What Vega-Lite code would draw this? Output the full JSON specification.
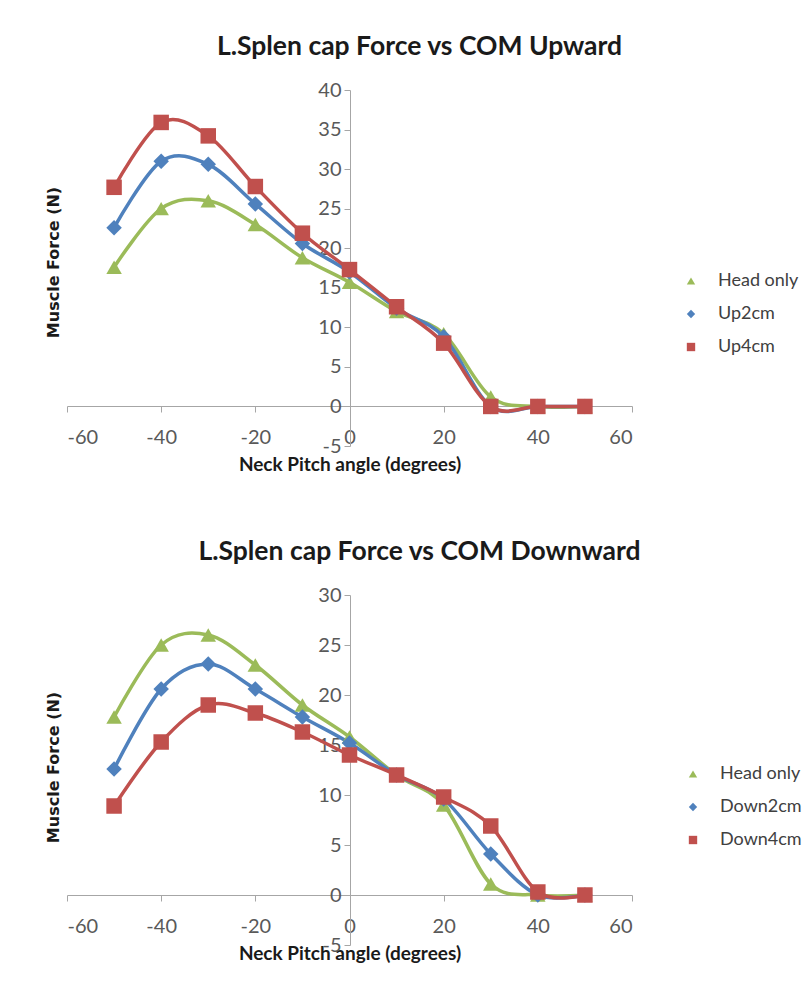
{
  "$schema": "https://vega.github.io/schema/vega-lite/v6.json",
  "background": "white",
  "padding": {"left": 45, "top": 33, "right": 0, "bottom": 0},
  "spacing": 64,
  "config": {
    "view": {"stroke": null},
    "font": "Lato",
    "axis": {
      "grid": false,
      "domainColor": "#a6a6a6",
      "tickColor": "#a6a6a6",
      "domainWidth": 1,
      "tickSize": 6,
      "labelColor": "#595959",
      "labelFont": "Lato",
      "labelFontSize": 20,
      "titleColor": "#1a1a1a"
    },
    "legend": {
      "labelFont": "Lato",
      "labelFontSize": 18,
      "labelColor": "#404040"
    },
    "title": {"font": "Lato", "fontSize": 26.5, "fontWeight": "bold", "color": "#1a1a1a"}
  },
  "resolve": {"scale": {"color": "independent", "shape": "independent", "stroke": "independent"}},
  "vconcat": [
    {
      "width": 565,
      "height": 356,
      "title": {"text": "L.Splen cap Force vs COM Upward", "offset": 20, "dx": 70},
      "data": {"values": [
        {"angle": -50, "force": 17.6, "series": "Head only"},
        {"angle": -40, "force": 25.0, "series": "Head only"},
        {"angle": -30, "force": 26.0, "series": "Head only"},
        {"angle": -20, "force": 23.0, "series": "Head only"},
        {"angle": -10, "force": 18.8, "series": "Head only"},
        {"angle": 0, "force": 15.7, "series": "Head only"},
        {"angle": 10, "force": 12.0, "series": "Head only"},
        {"angle": 20, "force": 9.2, "series": "Head only"},
        {"angle": 30, "force": 1.2, "series": "Head only"},
        {"angle": 40, "force": 0, "series": "Head only"},
        {"angle": 50, "force": 0, "series": "Head only"},
        {"angle": -50, "force": 22.6, "series": "Up2cm"},
        {"angle": -40, "force": 31.0, "series": "Up2cm"},
        {"angle": -30, "force": 30.6, "series": "Up2cm"},
        {"angle": -20, "force": 25.6, "series": "Up2cm"},
        {"angle": -10, "force": 20.6, "series": "Up2cm"},
        {"angle": 0, "force": 17.0, "series": "Up2cm"},
        {"angle": 10, "force": 12.4, "series": "Up2cm"},
        {"angle": 20, "force": 8.8, "series": "Up2cm"},
        {"angle": 30, "force": 0, "series": "Up2cm"},
        {"angle": 40, "force": 0, "series": "Up2cm"},
        {"angle": 50, "force": 0, "series": "Up2cm"},
        {"angle": -50, "force": 27.7, "series": "Up4cm"},
        {"angle": -40, "force": 35.9, "series": "Up4cm"},
        {"angle": -30, "force": 34.2, "series": "Up4cm"},
        {"angle": -20, "force": 27.8, "series": "Up4cm"},
        {"angle": -10, "force": 21.9, "series": "Up4cm"},
        {"angle": 0, "force": 17.3, "series": "Up4cm"},
        {"angle": 10, "force": 12.6, "series": "Up4cm"},
        {"angle": 20, "force": 8.0, "series": "Up4cm"},
        {"angle": 30, "force": 0, "series": "Up4cm"},
        {"angle": 40, "force": 0, "series": "Up4cm"},
        {"angle": 50, "force": 0, "series": "Up4cm"}
      ]},
      "encoding": {
        "x": {
          "field": "angle", "type": "quantitative",
          "scale": {"domain": [-60, 60], "nice": false, "zero": false},
          "axis": {
            "values": [-60, -40, -20, 0, 20, 40, 60],
            "labelExpr": "'' + datum.value",
            "offset": -40, "labelPadding": 25, "labelBaseline": "middle",
            "title": "Neck Pitch angle (degrees)",
            "titleFont": "Lato", "titleFontSize": 19, "titleFontWeight": "bold", "titlePadding": 8
          }
        },
        "y": {
          "field": "force", "type": "quantitative",
          "scale": {"domain": [-5, 40], "nice": false, "zero": false},
          "axis": {
            "values": [-5, 0, 5, 10, 15, 20, 25, 30, 35, 40],
            "labelExpr": "'' + datum.value",
            "offset": -283, "labelPadding": 3,
            "title": "Muscle Force (N)",
            "titleFont": "DejaVu Sans", "titleFontSize": 16, "titleFontWeight": "bold",
            "titleX": -297, "titleY": 172, "titleBaseline": "middle"
          }
        }
      },
      "layer": [
        {
          "mark": {"type": "line", "interpolate": "cardinal", "strokeWidth": 3.5},
          "encoding": {
            "stroke": {"field": "series", "type": "nominal",
              "scale": {"domain": ["Up4cm", "Up2cm", "Head only"], "range": ["#C0504D", "#4F81BD", "#9BBB59"]},
              "legend": null}
          }
        },
        {
          "mark": {"type": "point", "filled": true, "opacity": 1, "size": 240},
          "encoding": {
            "color": {"field": "series", "type": "nominal",
              "scale": {"domain": ["Head only", "Up2cm", "Up4cm"], "range": ["#9BBB59", "#4F81BD", "#C0504D"]},
              "legend": {
                "title": null, "orient": "none", "legendX": 615, "legendY": 182,
                "symbolSize": 70, "labelOffset": 18, "rowPadding": 15
              }
            },
            "shape": {"field": "series", "type": "nominal",
              "scale": {"domain": ["Head only", "Up2cm", "Up4cm"], "range": ["triangle-up", "diamond", "square"]},
              "legend": {
                "title": null, "orient": "none", "legendX": 615, "legendY": 182,
                "symbolSize": 70, "labelOffset": 18, "rowPadding": 15
              }
            }
          }
        }
      ]
    },
    {
      "width": 565,
      "height": 350,
      "title": {"text": "L.Splen cap Force vs COM Downward", "offset": 20, "dx": 70},
      "data": {"values": [
        {"angle": -50, "force": 17.8, "series": "Head only"},
        {"angle": -40, "force": 25.0, "series": "Head only"},
        {"angle": -30, "force": 26.0, "series": "Head only"},
        {"angle": -20, "force": 23.0, "series": "Head only"},
        {"angle": -10, "force": 19.0, "series": "Head only"},
        {"angle": 0, "force": 15.8, "series": "Head only"},
        {"angle": 10, "force": 12.0, "series": "Head only"},
        {"angle": 20, "force": 9.0, "series": "Head only"},
        {"angle": 30, "force": 1.1, "series": "Head only"},
        {"angle": 40, "force": 0, "series": "Head only"},
        {"angle": 50, "force": 0, "series": "Head only"},
        {"angle": -50, "force": 12.6, "series": "Down2cm"},
        {"angle": -40, "force": 20.6, "series": "Down2cm"},
        {"angle": -30, "force": 23.1, "series": "Down2cm"},
        {"angle": -20, "force": 20.6, "series": "Down2cm"},
        {"angle": -10, "force": 17.8, "series": "Down2cm"},
        {"angle": 0, "force": 15.2, "series": "Down2cm"},
        {"angle": 10, "force": 12.0, "series": "Down2cm"},
        {"angle": 20, "force": 9.6, "series": "Down2cm"},
        {"angle": 30, "force": 4.1, "series": "Down2cm"},
        {"angle": 40, "force": 0, "series": "Down2cm"},
        {"angle": 50, "force": 0, "series": "Down2cm"},
        {"angle": -50, "force": 8.9, "series": "Down4cm"},
        {"angle": -40, "force": 15.3, "series": "Down4cm"},
        {"angle": -30, "force": 19.0, "series": "Down4cm"},
        {"angle": -20, "force": 18.2, "series": "Down4cm"},
        {"angle": -10, "force": 16.3, "series": "Down4cm"},
        {"angle": 0, "force": 14.0, "series": "Down4cm"},
        {"angle": 10, "force": 12.0, "series": "Down4cm"},
        {"angle": 20, "force": 9.8, "series": "Down4cm"},
        {"angle": 30, "force": 6.9, "series": "Down4cm"},
        {"angle": 40, "force": 0.3, "series": "Down4cm"},
        {"angle": 50, "force": 0, "series": "Down4cm"}
      ]},
      "encoding": {
        "x": {
          "field": "angle", "type": "quantitative",
          "scale": {"domain": [-60, 60], "nice": false, "zero": false},
          "axis": {
            "values": [-60, -40, -20, 0, 20, 40, 60],
            "labelExpr": "'' + datum.value",
            "offset": -50, "labelPadding": 25, "labelBaseline": "middle",
            "title": "Neck Pitch angle (degrees)",
            "titleFont": "Lato", "titleFontSize": 19, "titleFontWeight": "bold", "titlePadding": 8
          }
        },
        "y": {
          "field": "force", "type": "quantitative",
          "scale": {"domain": [-5, 30], "nice": false, "zero": false},
          "axis": {
            "values": [-5, 0, 5, 10, 15, 20, 25, 30],
            "labelExpr": "'' + datum.value",
            "offset": -283, "labelPadding": 3,
            "title": "Muscle Force (N)",
            "titleFont": "DejaVu Sans", "titleFontSize": 16, "titleFontWeight": "bold",
            "titleX": -297, "titleY": 172, "titleBaseline": "middle"
          }
        }
      },
      "layer": [
        {
          "mark": {"type": "line", "interpolate": "cardinal", "strokeWidth": 3.5},
          "encoding": {
            "stroke": {"field": "series", "type": "nominal",
              "scale": {"domain": ["Down4cm", "Down2cm", "Head only"], "range": ["#C0504D", "#4F81BD", "#9BBB59"]},
              "legend": null}
          }
        },
        {
          "mark": {"type": "point", "filled": true, "opacity": 1, "size": 240},
          "encoding": {
            "color": {"field": "series", "type": "nominal",
              "scale": {"domain": ["Head only", "Down2cm", "Down4cm"], "range": ["#9BBB59", "#4F81BD", "#C0504D"]},
              "legend": {
                "title": null, "orient": "none", "legendX": 617, "legendY": 170,
                "symbolSize": 70, "labelOffset": 18, "rowPadding": 15
              }
            },
            "shape": {"field": "series", "type": "nominal",
              "scale": {"domain": ["Head only", "Down2cm", "Down4cm"], "range": ["triangle-up", "diamond", "square"]},
              "legend": {
                "title": null, "orient": "none", "legendX": 617, "legendY": 170,
                "symbolSize": 70, "labelOffset": 18, "rowPadding": 15
              }
            }
          }
        }
      ]
    }
  ]
}
